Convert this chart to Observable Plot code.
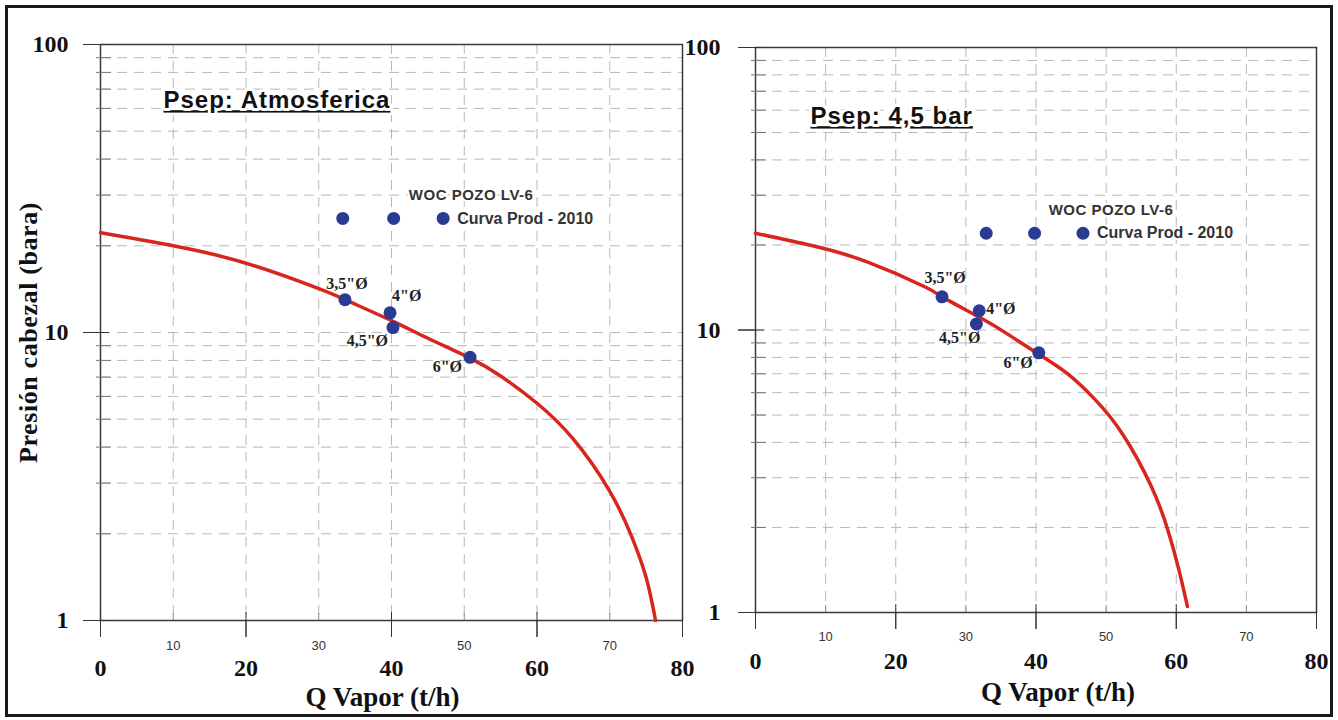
<!DOCTYPE html>
<html><head><meta charset="utf-8">
<script src="https://cdn.jsdelivr.net/npm/d3@7"></script>
<script src="https://cdn.jsdelivr.net/npm/@observablehq/plot@0.6"></script>
<style>
body{margin:0;background:#fff;}
#wrap{position:relative;width:1338px;height:720px;overflow:hidden;background:#fff;}
#border{position:absolute;left:5px;top:5px;width:1328px;height:712px;box-sizing:border-box;border:3px solid #1a1a1a;}
.panel{position:absolute;top:0;}
</style></head><body><div id="wrap"><div id="border"></div></div>
<script>
// ---- data ----
const xTicksMajor = [0, 20, 40, 60, 80];
const xTicksMinor = [10, 30, 50, 70];
const xGrid = [10, 20, 30, 40, 50, 60, 70];
const yTicksMajor = [1, 10, 100];
const yTicksMinor = [2, 3, 4, 5, 6, 7, 8, 9, 20, 30, 40, 50, 60, 70, 80, 90];
const yGrid = [2, 3, 4, 5, 6, 7, 8, 9, 10, 20, 30, 40, 50, 60, 70, 80, 90];

const pointLabels = ['3,5"Ø', '4"Ø', '4,5"Ø', '6"Ø'];
const wellName = "WOC POZO LV-6";
const seriesName = "Curva Prod - 2010";
const xTitle = "Q Vapor (t/h)";
const yTitle = "Presión cabezal (bara)";

// Panel 1: Psep atmosférica
const atmTitle = "Psep: Atmosferica";
const atmCurveQ = [0, 10, 20, 30, 33.6, 40, 45, 50.8, 55, 60, 65, 70, 73, 75, 76.3];
const atmCurveP = [22.2, 20.0, 17.4, 14.2, 13.0, 11.0, 9.55, 8.15, 7.06, 5.68, 4.26, 2.81, 1.96, 1.41, 1.0];
const atmPointQ = [33.6, 39.8, 40.2, 50.8];
const atmPointP = [13.0, 11.7, 10.4, 8.2];
const atmLegendQ = [33.3, 40.3, 47.1];
const atmLegendP = 24.9;

// Panel 2: Psep 4,5 bar
const barTitle = "Psep: 4,5 bar";
const barCurveQ = [0, 8, 16, 24.2, 26.6, 32.2, 36.3, 40.4, 44.3, 48.4, 52.4, 56.4, 58.8, 60.4, 61.6];
const barCurveP = [22.0, 19.9, 17.4, 14.2, 13.1, 11.0, 9.55, 8.2, 7.06, 5.68, 4.26, 2.81, 1.96, 1.41, 1.05];
const barPointQ = [26.6, 31.9, 31.5, 40.4];
const barPointP = [13.1, 11.7, 10.5, 8.3];
const barLegendQ = [32.9, 39.8, 46.7];
const barLegendP = 22.0;

// ---- styling / placement config ----
const RED = "#d8261e", BLUE = "#2b3b94", GRID = "#b8b8b8";
const SERIF = "Liberation Serif, Times New Roman, serif";
const SANS = "Liberation Sans, Arial, sans-serif";

const panels = [
  {
    left: 0, width: 695, marginLeft: 100, marginRight: 13, marginTop: 44, marginBottom: 100,
    title: atmTitle, titleDx: 63, titleDy: 56,
    curveQ: atmCurveQ, curveP: atmCurveP, pointQ: atmPointQ, pointP: atmPointP,
    legendQ: atmLegendQ, legendP: atmLegendP,
    yTitle: true, yPad: 15, xLabPad: 21, xSmallPad: 20, xTitleDx: -9, xTitleDy: 77,
    place: [
      {dx: 2, dy: -16, anchor: "middle"},
      {dx: 2, dy: -17, anchor: "start"},
      {dx: -5, dy: 13, anchor: "end"},
      {dx: -8, dy: 10, anchor: "end"}
    ]
  },
  {
    left: 680, width: 658, marginLeft: 75, marginRight: 22, marginTop: 47, marginBottom: 108,
    title: barTitle, titleDx: 55, titleDy: 69,
    curveQ: barCurveQ, curveP: barCurveP, pointQ: barPointQ, pointP: barPointP,
    legendQ: barLegendQ, legendP: barLegendP,
    yTitle: false, yPad: 18, xLabPad: 22, xSmallPad: 19, xTitleDx: 22, xTitleDy: 80,
    place: [
      {dx: 3, dy: -19, anchor: "middle"},
      {dx: 7, dy: -2, anchor: "start"},
      {dx: 4, dy: 14, anchor: "end"},
      {dx: -6, dy: 10, anchor: "end"}
    ]
  }
];

function buildPanel(cfg) {
  const curve = cfg.curveQ.map((q, i) => ({q, p: cfg.curveP[i]}));
  const pts = pointLabels.map((label, i) => ({label, q: cfg.pointQ[i], p: cfg.pointP[i]}));
  const leg = cfg.legendQ.map(q => ({q, p: cfg.legendP}));
  const last = leg[leg.length - 1];

  const marks = [
    Plot.gridX(xGrid, {stroke: GRID, strokeOpacity: 1, strokeDasharray: "10,7"}),
    Plot.gridY(yGrid, {stroke: GRID, strokeOpacity: 1, strokeDasharray: "10,7"}),
    Plot.frame({stroke: "#3a3a3a", strokeWidth: 1.5}),
    // tick marks crossing the axis lines
    Plot.axisX(xTicksMajor, {tickSize: 25, dy: -8, tickFormat: () => "", label: null, stroke: "#333"}),
    Plot.axisX(xTicksMinor, {tickSize: 7, dy: -7, tickFormat: () => "", label: null, stroke: "#888"}),
    Plot.axisY(yTicksMajor, {tickSize: 26, dx: 9, tickFormat: () => "", label: null, stroke: "#333"}),
    Plot.axisY(yTicksMinor, {tickSize: 15, dx: 11, tickFormat: () => "", label: null, stroke: "#777"}),
    // tick labels
    Plot.axisX(xTicksMajor, {tickSize: 17, tickPadding: cfg.xLabPad, fontSize: 24, fontFamily: SERIF, fontWeight: "bold", label: null, stroke: "#333", fill: "#111"}),
    Plot.axisX(xTicksMinor, {tickSize: 0, tickPadding: cfg.xSmallPad, fontSize: 13, fontFamily: SANS, label: null, fill: "#333"}),
    Plot.axisY(yTicksMajor, {tickSize: 17, tickPadding: cfg.yPad, fontSize: 24, fontFamily: SERIF, fontWeight: "bold", label: null, stroke: "#333", fill: "#111"}),
    Plot.text([cfg.title], {frameAnchor: "top-left", dx: cfg.titleDx, dy: cfg.titleDy, textAnchor: "start", lineAnchor: "middle", fontSize: 24, fontWeight: "bold", fontFamily: SANS, fill: "#111", stroke: "white", strokeWidth: 6}),
    Plot.text([wellName], {x: last.q, y: last.p, dx: 28, dy: -23, textAnchor: "middle", fontSize: 15, fontWeight: "bold", fontFamily: SANS, fill: "#333", stroke: "white", strokeWidth: 4}),
    Plot.text([seriesName], {x: last.q, y: last.p, dx: 14, textAnchor: "start", fontSize: 16, fontWeight: "bold", fontFamily: SANS, fill: "#333", stroke: "white", strokeWidth: 4}),
    Plot.dot(leg, {x: "q", y: "p", r: 6.5, fill: BLUE}),
    Plot.line(curve, {x: "q", y: "p", stroke: RED, strokeWidth: 3.5, curve: "natural"}),
    Plot.dot(pts, {x: "q", y: "p", r: 6.5, fill: BLUE}),
    ...pts.map((d, i) => Plot.text([d], {x: "q", y: "p", text: "label", dx: cfg.place[i].dx, dy: cfg.place[i].dy, textAnchor: cfg.place[i].anchor, fontSize: 16, fontWeight: "bold", fontFamily: SERIF, fill: "#222"})),
    Plot.text([xTitle], {frameAnchor: "bottom", dx: cfg.xTitleDx, dy: cfg.xTitleDy, textAnchor: "middle", lineAnchor: "middle", fontSize: 27, fontWeight: "bold", fontFamily: SERIF, fill: "#111"})
  ];
  if (cfg.yTitle) {
    marks.push(Plot.text([yTitle], {frameAnchor: "left", dx: -72, rotate: -90, textAnchor: "middle", lineAnchor: "middle", fontSize: 26, fontWeight: "bold", fontFamily: SERIF, fill: "#111"}));
  }

  const svg = Plot.plot({
    width: cfg.width, height: 720,
    marginLeft: cfg.marginLeft, marginRight: cfg.marginRight, marginTop: cfg.marginTop, marginBottom: cfg.marginBottom,
    x: {domain: [0, 80], axis: null},
    y: {type: "log", domain: [1, 100], axis: null},
    style: {background: "transparent", overflow: "visible", color: "#111"},
    marks
  });
  d3.select(svg).selectAll("text").each(function() {
    const t = this.textContent;
    if (t === cfg.title) d3.select(this).attr("text-decoration", "underline").style("letter-spacing", "1px");
    if (t === yTitle) d3.select(this).style("letter-spacing", "0.6px");
    if (t === wellName) d3.select(this).style("letter-spacing", "0.5px");
  });
  svg.classList.add("panel");
  svg.style.left = cfg.left + "px";
  svg.style.position = "absolute";
  svg.style.top = "0px";
  return svg;
}

const wrap = document.getElementById("wrap");
panels.forEach(cfg => wrap.appendChild(buildPanel(cfg)));
</script>
</body></html>
